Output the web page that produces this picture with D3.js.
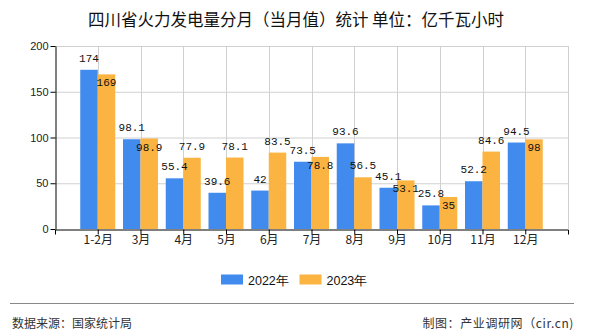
<!DOCTYPE html>
<html><head><meta charset="utf-8">
<script src="https://cdn.jsdelivr.net/npm/d3@7"></script>
<style>body{margin:0;background:#fff;}svg{display:block;}</style>
</head><body>
<svg id="c" width="590" height="330"></svg>
<script>
const title = "四川省火力发电量分月（当月值）统计 单位：亿千瓦小时";
const categories = ["1-2月","3月","4月","5月","6月","7月","8月","9月","10月","11月","12月"];
const series2022 = [174,98.1,55.4,39.6,42,73.5,93.6,45.1,25.8,52.2,94.5];
const series2023 = [169,98.9,77.9,78.1,83.5,78.8,56.5,53.1,35,84.6,98];
const seriesNames = ["2022年","2023年"];
const yTicks = [0,50,100,150,200];
const source = "数据来源：国家统计局";
const credit = "制图：产业调研网（cir.cn)";

const colors = ["#418BEF","#FBB342"];
const svg = d3.select("#c");
const L=55, R=568, T=46, B=229;
const x = d3.scaleLinear().domain([0, categories.length+1]).range([L,R]);
const y = d3.scaleLinear().domain([0,200]).range([B,T]);
const bw = 17.5;

svg.append("text").attr("x",296).attr("y",26).attr("text-anchor","middle")
  .attr("font-family","'Noto Sans CJK SC'").attr("font-size",16.5).attr("fill","#111").text(title);

// grid
const g = svg.append("g");
g.selectAll(".hg").data(yTicks.filter(d=>d>0)).join("line")
  .attr("x1",L).attr("x2",R).attr("y1",d=>y(d)+0.5).attr("y2",d=>y(d)+0.5)
  .attr("stroke","#d0d0d0").attr("stroke-width",1);
const vIdx = d3.range(1, categories.length+2);
g.selectAll(".vg").data(vIdx).join("line")
  .attr("x1",d=>Math.round(x(d))+0.5).attr("x2",d=>Math.round(x(d))+0.5).attr("y1",T).attr("y2",B)
  .attr("stroke","#d0d0d0").attr("stroke-width",1);

// bars
const data = categories.map((c,i)=>({c,i,v:[series2022[i],series2023[i]]}));
[0,1].forEach(s=>{
  svg.append("g").selectAll("rect").data(data).join("rect")
    .attr("x",d=>x(d.i+1)-bw+s*bw).attr("width",bw)
    .attr("y",d=>y(d.v[s])).attr("height",d=>B-y(d.v[s]))
    .attr("fill",colors[s]);
});

// y axis
const ya = svg.append("g").attr("transform",`translate(${L+0.5},0)`)
  .call(d3.axisLeft(y).tickValues(yTicks).tickSize(5).tickSizeOuter(0));
ya.select(".domain").attr("stroke","#000");
ya.selectAll("line").attr("stroke","#000");
ya.selectAll("text").attr("font-family","'Liberation Sans',Arial").attr("font-size",11).attr("fill","#222").attr("x",-7);

// x axis
const xa = svg.append("g").attr("transform",`translate(0,${B+0.5})`)
  .call(d3.axisBottom(x).tickValues(d3.range(1,categories.length+1)).tickFormat(i=>categories[i-1]).tickSize(5).tickSizeOuter(5));
xa.select(".domain").attr("stroke","#000");
xa.selectAll("line").attr("stroke","#000");
xa.selectAll("text").attr("font-family","'Noto Sans CJK SC'").attr("font-size",12).attr("fill","#222").attr("dy","0.55em");

// value labels
const lf = "'Liberation Mono',monospace";
svg.append("g").selectAll("text").data(data).join("text")
  .attr("x",d=>x(d.i+1)-bw/2).attr("y",d=>y(d.v[0])-8)
  .attr("text-anchor","middle").attr("font-family",lf).attr("font-size",11).attr("fill","#111")
  .text(d=>d.v[0]);
svg.append("g").selectAll("text").data(data).join("text")
  .attr("x",d=>x(d.i+1)+bw/2)
  .attr("y",d=>Math.abs(y(d.v[1])-y(d.v[0]))<14 ? y(d.v[1])+12 : y(d.v[1])-8)
  .attr("text-anchor","middle").attr("font-family",lf).attr("font-size",11).attr("fill","#111")
  .text(d=>d.v[1]);

// legend
const lg = svg.append("g");
const lx = [221, 299.5];
seriesNames.forEach((n,k)=>{
  lg.append("rect").attr("x",lx[k]).attr("y",274.5).attr("width",22).attr("height",10).attr("fill",colors[k]);
  lg.append("text").attr("x",lx[k]+27).attr("y",284.5).attr("font-family","'Liberation Sans',Arial")
    .attr("font-size",12.5).attr("fill","#111").text(n);
});

svg.append("line").attr("x1",10).attr("x2",574).attr("y1",303.5).attr("y2",303.5).attr("stroke","#888").attr("stroke-width",1.2);
svg.append("text").attr("x",12).attr("y",328).attr("font-family","'Noto Sans CJK SC'").attr("font-size",12).attr("fill","#333").text(source);
svg.append("text").attr("x",574).attr("y",328).attr("text-anchor","end").attr("font-family","'Noto Sans CJK SC'").attr("font-size",12).attr("letter-spacing",0.6).attr("fill","#333").text(credit);
</script>
</body></html>
